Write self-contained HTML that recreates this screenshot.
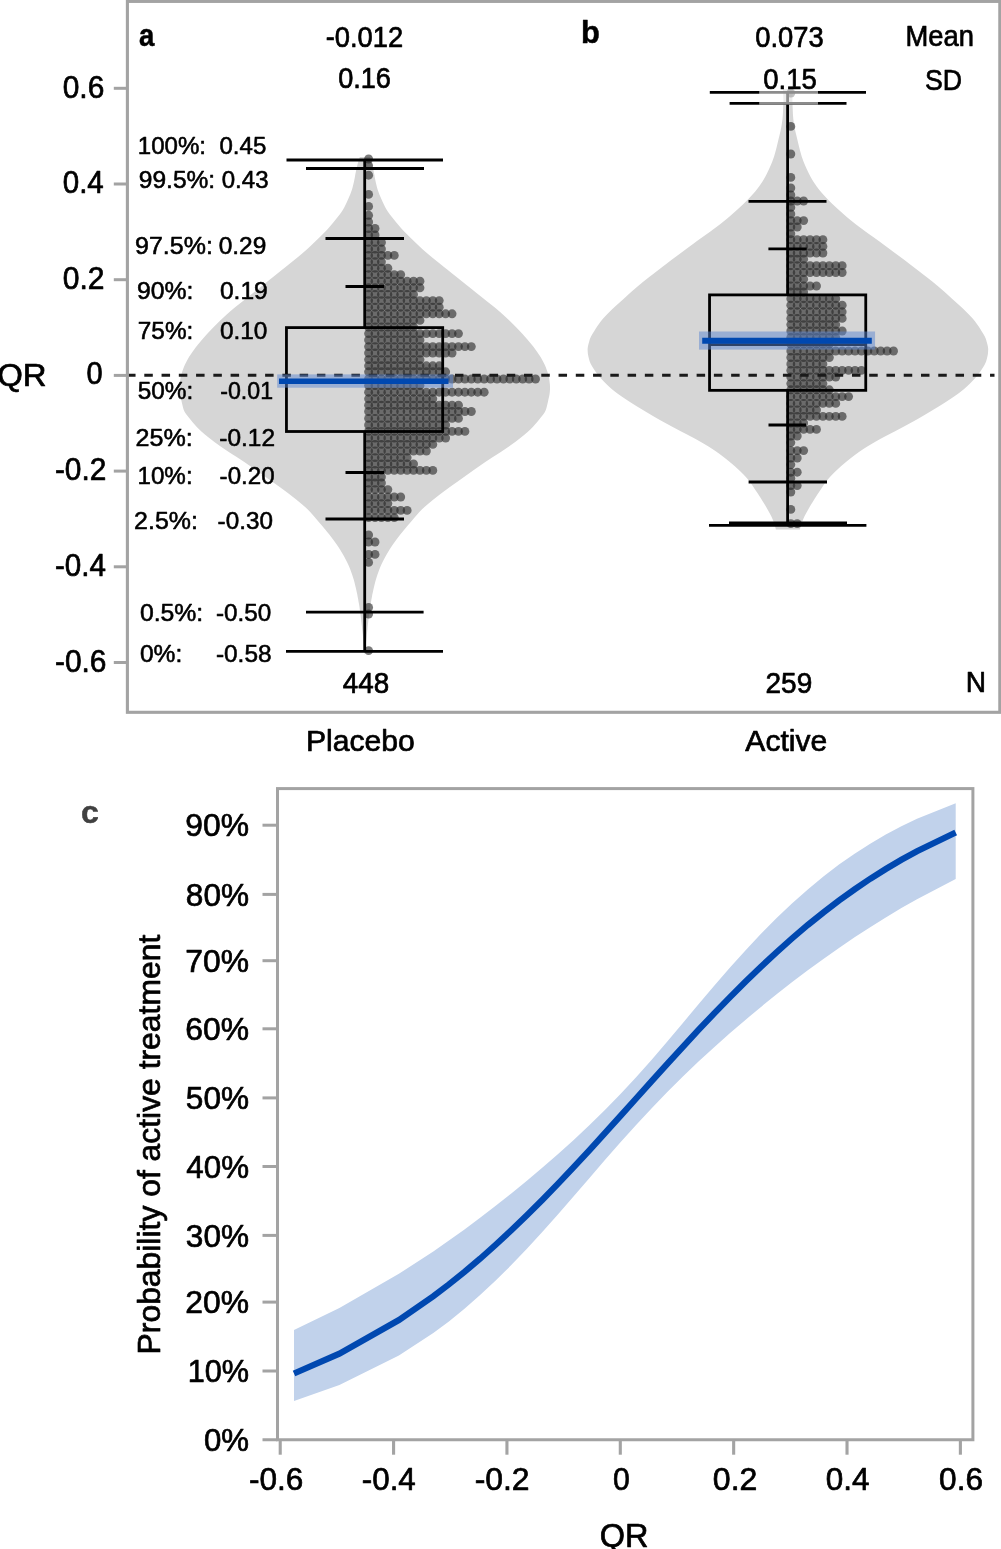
<!DOCTYPE html>
<html><head><meta charset="utf-8"><title>Figure</title>
<style>html,body{margin:0;padding:0;background:#fff}svg{display:block}</style></head>
<body>
<svg width="1001" height="1549" viewBox="0 0 1001 1549" font-family='"Liberation Sans", Arial, Helvetica, sans-serif'>
<rect x="0" y="0" width="1001" height="1549" fill="#fff"/>
<path d="M369.8,157.0 L370.6,159.5 L371.4,162.0 L372.1,164.5 L372.7,167.0 L373.3,169.5 L373.8,172.0 L374.3,174.5 L374.7,177.0 L375.2,179.5 L375.7,182.0 L376.3,184.5 L376.9,187.0 L377.6,189.5 L378.5,192.0 L379.4,194.5 L380.5,197.0 L381.6,199.5 L382.7,202.0 L383.9,204.5 L385.1,207.0 L386.5,209.5 L388.1,212.0 L389.9,214.5 L391.9,217.0 L393.9,219.5 L395.9,222.0 L398.0,224.5 L400.1,227.0 L402.3,229.5 L404.7,232.0 L407.2,234.5 L409.7,237.0 L412.3,239.5 L414.9,242.0 L417.5,244.5 L420.1,247.0 L422.8,249.5 L425.7,252.0 L428.6,254.5 L431.6,257.0 L434.7,259.5 L437.8,262.0 L440.9,264.5 L444.0,267.0 L447.2,269.5 L450.3,272.0 L453.4,274.5 L456.6,277.0 L459.7,279.5 L462.8,282.0 L465.9,284.5 L469.1,287.0 L472.2,289.5 L475.3,292.0 L478.4,294.5 L481.6,297.0 L484.7,299.5 L487.8,302.0 L491.0,304.5 L494.2,307.0 L497.2,309.5 L500.1,312.0 L502.9,314.5 L505.6,317.0 L508.3,319.5 L510.9,322.0 L513.4,324.5 L515.9,327.0 L518.3,329.5 L520.7,332.0 L523.0,334.5 L525.2,337.0 L527.4,339.5 L529.5,342.0 L531.6,344.5 L533.6,347.0 L535.4,349.5 L537.2,352.0 L538.9,354.5 L540.6,357.0 L542.0,359.5 L543.3,362.0 L544.6,364.5 L545.7,367.0 L546.6,369.5 L547.5,372.0 L548.2,374.5 L548.9,377.0 L549.3,379.5 L549.6,382.0 L549.9,384.5 L550.0,387.0 L550.0,389.5 L549.8,392.0 L549.5,394.5 L549.0,397.0 L548.4,399.5 L547.9,402.0 L547.3,404.5 L546.7,407.0 L546.0,409.5 L544.9,412.0 L543.2,414.5 L541.2,417.0 L539.2,419.5 L537.2,422.0 L535.0,424.5 L532.8,427.0 L530.3,429.5 L527.6,432.0 L524.7,434.5 L521.6,437.0 L518.4,439.5 L515.2,442.0 L511.7,444.5 L508.2,447.0 L504.5,449.5 L500.8,452.0 L496.9,454.5 L492.9,457.0 L489.1,459.5 L485.3,462.0 L481.7,464.5 L478.1,467.0 L474.5,469.5 L471.0,472.0 L467.5,474.5 L464.0,477.0 L460.5,479.5 L457.0,482.0 L453.4,484.5 L449.9,487.0 L446.5,489.5 L443.1,492.0 L439.8,494.5 L436.6,497.0 L433.4,499.5 L430.4,502.0 L427.4,504.5 L424.5,507.0 L421.8,509.5 L419.4,512.0 L417.2,514.5 L415.0,517.0 L412.9,519.5 L410.8,522.0 L408.6,524.5 L406.5,527.0 L404.4,529.5 L402.4,532.0 L400.3,534.5 L398.4,537.0 L396.5,539.5 L394.7,542.0 L392.9,544.5 L391.2,547.0 L389.6,549.5 L388.1,552.0 L386.6,554.5 L385.2,557.0 L383.9,559.5 L382.6,562.0 L381.4,564.5 L380.3,567.0 L379.3,569.5 L378.4,572.0 L377.5,574.5 L376.7,577.0 L375.9,579.5 L375.2,582.0 L374.6,584.5 L374.0,587.0 L373.4,589.5 L372.9,592.0 L372.3,594.5 L371.9,597.0 L371.4,599.5 L371.0,602.0 L370.5,604.5 L370.1,607.0 L369.8,609.5 L369.4,612.0 L369.1,614.5 L368.8,617.0 L368.5,619.5 L368.2,622.0 L367.9,624.5 L367.6,627.0 L367.4,629.5 L367.1,632.0 L366.8,634.5 L366.6,637.0 L366.3,639.5 L366.1,642.0 L365.9,644.5 L365.7,647.0 L365.5,649.5 L365.2,652.0 L364.9,654.5 L364.8,655.0 L364.8,655.0 L364.7,654.5 L364.4,652.0 L364.1,649.5 L363.9,647.0 L363.7,644.5 L363.5,642.0 L363.3,639.5 L363.0,637.0 L362.8,634.5 L362.5,632.0 L362.2,629.5 L362.0,627.0 L361.7,624.5 L361.4,622.0 L361.1,619.5 L360.8,617.0 L360.5,614.5 L360.2,612.0 L359.8,609.5 L359.5,607.0 L359.1,604.5 L358.6,602.0 L358.2,599.5 L357.7,597.0 L357.3,594.5 L356.7,592.0 L356.2,589.5 L355.6,587.0 L355.0,584.5 L354.4,582.0 L353.7,579.5 L352.9,577.0 L352.1,574.5 L351.2,572.0 L350.3,569.5 L349.3,567.0 L348.2,564.5 L347.0,562.0 L345.7,559.5 L344.4,557.0 L343.0,554.5 L341.5,552.0 L340.0,549.5 L338.4,547.0 L336.7,544.5 L334.9,542.0 L333.1,539.5 L331.2,537.0 L329.3,534.5 L327.2,532.0 L325.2,529.5 L323.1,527.0 L321.0,524.5 L318.8,522.0 L316.7,519.5 L314.6,517.0 L312.4,514.5 L310.2,512.0 L307.8,509.5 L305.1,507.0 L302.2,504.5 L299.2,502.0 L296.2,499.5 L293.0,497.0 L289.8,494.5 L286.5,492.0 L283.1,489.5 L279.7,487.0 L276.2,484.5 L272.6,482.0 L269.1,479.5 L265.6,477.0 L262.1,474.5 L258.6,472.0 L255.1,469.5 L251.5,467.0 L247.9,464.5 L244.3,462.0 L240.5,459.5 L236.7,457.0 L232.7,454.5 L228.8,452.0 L225.1,449.5 L221.4,447.0 L217.9,444.5 L214.4,442.0 L211.2,439.5 L208.0,437.0 L204.9,434.5 L202.0,432.0 L199.3,429.5 L196.8,427.0 L194.6,424.5 L192.4,422.0 L190.4,419.5 L188.4,417.0 L186.4,414.5 L184.7,412.0 L183.6,409.5 L182.9,407.0 L182.3,404.5 L181.7,402.0 L181.2,399.5 L180.6,397.0 L180.1,394.5 L179.8,392.0 L179.6,389.5 L179.6,387.0 L179.7,384.5 L180.0,382.0 L180.3,379.5 L180.7,377.0 L181.4,374.5 L182.1,372.0 L183.0,369.5 L183.9,367.0 L185.0,364.5 L186.3,362.0 L187.6,359.5 L189.0,357.0 L190.7,354.5 L192.4,352.0 L194.2,349.5 L196.0,347.0 L198.0,344.5 L200.1,342.0 L202.2,339.5 L204.4,337.0 L206.6,334.5 L208.9,332.0 L211.3,329.5 L213.7,327.0 L216.2,324.5 L218.7,322.0 L221.3,319.5 L224.0,317.0 L226.7,314.5 L229.5,312.0 L232.4,309.5 L235.4,307.0 L238.6,304.5 L241.8,302.0 L244.9,299.5 L248.1,297.0 L251.2,294.5 L254.3,292.0 L257.4,289.5 L260.6,287.0 L263.7,284.5 L266.8,282.0 L269.9,279.5 L273.1,277.0 L276.2,274.5 L279.3,272.0 L282.4,269.5 L285.6,267.0 L288.7,264.5 L291.8,262.0 L294.9,259.5 L298.0,257.0 L301.0,254.5 L303.9,252.0 L306.8,249.5 L309.5,247.0 L312.1,244.5 L314.7,242.0 L317.3,239.5 L319.9,237.0 L322.4,234.5 L324.9,232.0 L327.3,229.5 L329.5,227.0 L331.6,224.5 L333.7,222.0 L335.7,219.5 L337.7,217.0 L339.7,214.5 L341.5,212.0 L343.1,209.5 L344.5,207.0 L345.7,204.5 L346.9,202.0 L348.0,199.5 L349.1,197.0 L350.2,194.5 L351.1,192.0 L352.0,189.5 L352.7,187.0 L353.3,184.5 L353.9,182.0 L354.4,179.5 L354.9,177.0 L355.3,174.5 L355.8,172.0 L356.3,169.5 L356.9,167.0 L357.5,164.5 L358.2,162.0 L359.0,159.5 L359.8,157.0Z" fill="#d6d6d6"/>
<path d="M792.9,89.0 L792.7,91.5 L792.6,94.0 L792.5,96.5 L792.4,99.0 L792.4,101.5 L792.5,104.0 L792.6,106.5 L792.7,109.0 L792.8,111.5 L792.9,114.0 L793.1,116.5 L793.3,119.0 L793.6,121.5 L794.0,124.0 L794.4,126.5 L794.9,129.0 L795.4,131.5 L796.0,134.0 L796.6,136.5 L797.2,139.0 L797.8,141.5 L798.4,144.0 L799.0,146.5 L799.6,149.0 L800.3,151.5 L801.0,154.0 L801.7,156.5 L802.6,159.0 L803.5,161.5 L804.5,164.0 L805.6,166.5 L806.7,169.0 L807.9,171.5 L809.1,174.0 L810.4,176.5 L811.8,179.0 L813.3,181.5 L815.0,184.0 L816.7,186.5 L818.6,189.0 L820.6,191.5 L822.8,194.0 L825.1,196.5 L827.4,199.0 L829.9,201.5 L832.4,204.0 L835.1,206.5 L837.8,209.0 L840.6,211.5 L843.4,214.0 L846.2,216.5 L849.2,219.0 L852.3,221.5 L855.4,224.0 L858.7,226.5 L862.1,229.0 L865.4,231.5 L868.9,234.0 L872.5,236.5 L876.0,239.0 L879.5,241.5 L882.8,244.0 L886.2,246.5 L889.6,249.0 L892.9,251.5 L896.3,254.0 L899.7,256.5 L903.1,259.0 L906.4,261.5 L909.6,264.0 L912.9,266.5 L916.1,269.0 L919.4,271.5 L922.6,274.0 L925.9,276.5 L929.1,279.0 L932.3,281.5 L935.3,284.0 L938.3,286.5 L941.2,289.0 L944.1,291.5 L946.9,294.0 L949.6,296.5 L952.3,299.0 L955.1,301.5 L957.9,304.0 L960.7,306.5 L963.4,309.0 L965.9,311.5 L968.4,314.0 L970.8,316.5 L973.1,319.0 L975.1,321.5 L976.9,324.0 L978.7,326.5 L980.3,329.0 L981.8,331.5 L983.4,334.0 L984.8,336.5 L985.9,339.0 L986.6,341.5 L987.3,344.0 L987.9,346.5 L988.2,349.0 L988.1,351.5 L987.9,354.0 L987.4,356.5 L986.8,359.0 L986.1,361.5 L985.0,364.0 L983.6,366.5 L982.0,369.0 L980.4,371.5 L978.5,374.0 L976.5,376.5 L974.3,379.0 L972.0,381.5 L969.5,384.0 L966.9,386.5 L964.1,389.0 L961.0,391.5 L957.7,394.0 L954.1,396.5 L950.4,399.0 L946.6,401.5 L942.7,404.0 L938.7,406.5 L934.5,409.0 L930.4,411.5 L926.2,414.0 L922.0,416.5 L917.7,419.0 L913.2,421.5 L908.6,424.0 L904.0,426.5 L899.3,429.0 L894.6,431.5 L889.7,434.0 L884.9,436.5 L880.2,439.0 L875.8,441.5 L871.5,444.0 L867.3,446.5 L863.4,449.0 L859.7,451.5 L856.2,454.0 L852.9,456.5 L849.7,459.0 L846.6,461.5 L843.6,464.0 L840.7,466.5 L838.0,469.0 L835.3,471.5 L832.8,474.0 L830.4,476.5 L828.2,479.0 L826.2,481.5 L824.4,484.0 L822.7,486.5 L821.1,489.0 L819.4,491.5 L817.7,494.0 L816.1,496.5 L814.5,499.0 L813.0,501.5 L811.4,504.0 L809.9,506.5 L808.5,509.0 L807.1,511.5 L805.7,514.0 L804.4,516.5 L803.3,519.0 L802.3,521.5 L801.5,524.0 L800.7,526.5 L800.0,529.0 L799.9,529.6 L775.9,529.6 L775.8,529.0 L775.1,526.5 L774.3,524.0 L773.5,521.5 L772.5,519.0 L771.4,516.5 L770.1,514.0 L768.7,511.5 L767.3,509.0 L765.9,506.5 L764.4,504.0 L762.8,501.5 L761.3,499.0 L759.7,496.5 L758.1,494.0 L756.4,491.5 L754.7,489.0 L753.1,486.5 L751.4,484.0 L749.6,481.5 L747.6,479.0 L745.4,476.5 L743.0,474.0 L740.5,471.5 L737.8,469.0 L735.1,466.5 L732.2,464.0 L729.2,461.5 L726.1,459.0 L722.9,456.5 L719.6,454.0 L716.1,451.5 L712.4,449.0 L708.5,446.5 L704.3,444.0 L700.0,441.5 L695.6,439.0 L690.9,436.5 L686.1,434.0 L681.2,431.5 L676.5,429.0 L671.8,426.5 L667.2,424.0 L662.6,421.5 L658.1,419.0 L653.8,416.5 L649.6,414.0 L645.4,411.5 L641.3,409.0 L637.1,406.5 L633.1,404.0 L629.2,401.5 L625.4,399.0 L621.7,396.5 L618.1,394.0 L614.8,391.5 L611.7,389.0 L608.9,386.5 L606.3,384.0 L603.8,381.5 L601.5,379.0 L599.3,376.5 L597.3,374.0 L595.4,371.5 L593.8,369.0 L592.2,366.5 L590.8,364.0 L589.7,361.5 L589.0,359.0 L588.4,356.5 L587.9,354.0 L587.7,351.5 L587.6,349.0 L587.9,346.5 L588.5,344.0 L589.2,341.5 L589.9,339.0 L591.0,336.5 L592.4,334.0 L594.0,331.5 L595.5,329.0 L597.1,326.5 L598.9,324.0 L600.7,321.5 L602.7,319.0 L605.0,316.5 L607.4,314.0 L609.9,311.5 L612.4,309.0 L615.1,306.5 L617.9,304.0 L620.7,301.5 L623.5,299.0 L626.2,296.5 L628.9,294.0 L631.7,291.5 L634.6,289.0 L637.5,286.5 L640.5,284.0 L643.5,281.5 L646.7,279.0 L649.9,276.5 L653.2,274.0 L656.4,271.5 L659.7,269.0 L662.9,266.5 L666.2,264.0 L669.4,261.5 L672.7,259.0 L676.1,256.5 L679.5,254.0 L682.9,251.5 L686.2,249.0 L689.6,246.5 L693.0,244.0 L696.3,241.5 L699.8,239.0 L703.3,236.5 L706.9,234.0 L710.4,231.5 L713.7,229.0 L717.1,226.5 L720.4,224.0 L723.5,221.5 L726.6,219.0 L729.6,216.5 L732.4,214.0 L735.2,211.5 L738.0,209.0 L740.7,206.5 L743.4,204.0 L745.9,201.5 L748.4,199.0 L750.7,196.5 L753.0,194.0 L755.2,191.5 L757.2,189.0 L759.1,186.5 L760.8,184.0 L762.5,181.5 L764.0,179.0 L765.4,176.5 L766.7,174.0 L767.9,171.5 L769.1,169.0 L770.2,166.5 L771.3,164.0 L772.3,161.5 L773.2,159.0 L774.1,156.5 L774.8,154.0 L775.5,151.5 L776.2,149.0 L776.8,146.5 L777.4,144.0 L778.0,141.5 L778.6,139.0 L779.2,136.5 L779.8,134.0 L780.4,131.5 L780.9,129.0 L781.4,126.5 L781.8,124.0 L782.2,121.5 L782.5,119.0 L782.7,116.5 L782.9,114.0 L783.0,111.5 L783.1,109.0 L783.2,106.5 L783.3,104.0 L783.4,101.5 L783.4,99.0 L783.3,96.5 L783.2,94.0 L783.1,91.5 L782.9,89.0Z" fill="#d6d6d6"/>
<g fill="#232323" fill-opacity="0.6">
<circle cx="368.60" cy="159" r="4.45"/>
<circle cx="368.60" cy="165.6" r="4.45"/>
<circle cx="368.60" cy="175.2" r="4.45"/>
<circle cx="368.60" cy="194.4" r="4.45"/>
<circle cx="368.60" cy="206.4" r="4.45"/>
<circle cx="368.60" cy="215.3" r="4.45"/>
<circle cx="368.60" cy="222" r="4.45"/>
<circle cx="368.60" cy="228.5" r="4.45"/>
<circle cx="375.02" cy="228.5" r="4.45"/>
<circle cx="368.60" cy="235" r="4.45"/>
<circle cx="375.02" cy="235" r="4.45"/>
<circle cx="368.60" cy="242.4" r="4.45"/>
<circle cx="375.02" cy="242.4" r="4.45"/>
<circle cx="381.44" cy="242.4" r="4.45"/>
<circle cx="368.60" cy="249" r="4.45"/>
<circle cx="375.02" cy="249" r="4.45"/>
<circle cx="381.44" cy="249" r="4.45"/>
<circle cx="368.60" cy="255.4" r="4.45"/>
<circle cx="375.02" cy="255.4" r="4.45"/>
<circle cx="381.44" cy="255.4" r="4.45"/>
<circle cx="387.86" cy="255.4" r="4.45"/>
<circle cx="394.28" cy="255.4" r="4.45"/>
<circle cx="368.60" cy="261.8" r="4.45"/>
<circle cx="375.02" cy="261.8" r="4.45"/>
<circle cx="381.44" cy="261.8" r="4.45"/>
<circle cx="368.60" cy="268.2" r="4.45"/>
<circle cx="375.02" cy="268.2" r="4.45"/>
<circle cx="381.44" cy="268.2" r="4.45"/>
<circle cx="387.86" cy="268.2" r="4.45"/>
<circle cx="368.60" cy="274.6" r="4.45"/>
<circle cx="375.02" cy="274.6" r="4.45"/>
<circle cx="381.44" cy="274.6" r="4.45"/>
<circle cx="387.86" cy="274.6" r="4.45"/>
<circle cx="394.28" cy="274.6" r="4.45"/>
<circle cx="400.70" cy="274.6" r="4.45"/>
<circle cx="368.60" cy="281.2" r="4.45"/>
<circle cx="375.02" cy="281.2" r="4.45"/>
<circle cx="381.44" cy="281.2" r="4.45"/>
<circle cx="387.86" cy="281.2" r="4.45"/>
<circle cx="394.28" cy="281.2" r="4.45"/>
<circle cx="400.70" cy="281.2" r="4.45"/>
<circle cx="407.12" cy="281.2" r="4.45"/>
<circle cx="413.54" cy="281.2" r="4.45"/>
<circle cx="419.96" cy="281.2" r="4.45"/>
<circle cx="368.60" cy="287.8" r="4.45"/>
<circle cx="375.02" cy="287.8" r="4.45"/>
<circle cx="381.44" cy="287.8" r="4.45"/>
<circle cx="387.86" cy="287.8" r="4.45"/>
<circle cx="394.28" cy="287.8" r="4.45"/>
<circle cx="400.70" cy="287.8" r="4.45"/>
<circle cx="407.12" cy="287.8" r="4.45"/>
<circle cx="413.54" cy="287.8" r="4.45"/>
<circle cx="419.96" cy="287.8" r="4.45"/>
<circle cx="368.60" cy="294.4" r="4.45"/>
<circle cx="375.02" cy="294.4" r="4.45"/>
<circle cx="381.44" cy="294.4" r="4.45"/>
<circle cx="387.86" cy="294.4" r="4.45"/>
<circle cx="394.28" cy="294.4" r="4.45"/>
<circle cx="400.70" cy="294.4" r="4.45"/>
<circle cx="407.12" cy="294.4" r="4.45"/>
<circle cx="413.54" cy="294.4" r="4.45"/>
<circle cx="368.60" cy="300.6" r="4.45"/>
<circle cx="375.02" cy="300.6" r="4.45"/>
<circle cx="381.44" cy="300.6" r="4.45"/>
<circle cx="387.86" cy="300.6" r="4.45"/>
<circle cx="394.28" cy="300.6" r="4.45"/>
<circle cx="400.70" cy="300.6" r="4.45"/>
<circle cx="407.12" cy="300.6" r="4.45"/>
<circle cx="413.54" cy="300.6" r="4.45"/>
<circle cx="419.96" cy="300.6" r="4.45"/>
<circle cx="426.38" cy="300.6" r="4.45"/>
<circle cx="432.80" cy="300.6" r="4.45"/>
<circle cx="439.22" cy="300.6" r="4.45"/>
<circle cx="368.60" cy="307.2" r="4.45"/>
<circle cx="375.02" cy="307.2" r="4.45"/>
<circle cx="381.44" cy="307.2" r="4.45"/>
<circle cx="387.86" cy="307.2" r="4.45"/>
<circle cx="394.28" cy="307.2" r="4.45"/>
<circle cx="400.70" cy="307.2" r="4.45"/>
<circle cx="407.12" cy="307.2" r="4.45"/>
<circle cx="413.54" cy="307.2" r="4.45"/>
<circle cx="419.96" cy="307.2" r="4.45"/>
<circle cx="426.38" cy="307.2" r="4.45"/>
<circle cx="432.80" cy="307.2" r="4.45"/>
<circle cx="439.22" cy="307.2" r="4.45"/>
<circle cx="368.60" cy="313.8" r="4.45"/>
<circle cx="375.02" cy="313.8" r="4.45"/>
<circle cx="381.44" cy="313.8" r="4.45"/>
<circle cx="387.86" cy="313.8" r="4.45"/>
<circle cx="394.28" cy="313.8" r="4.45"/>
<circle cx="400.70" cy="313.8" r="4.45"/>
<circle cx="407.12" cy="313.8" r="4.45"/>
<circle cx="413.54" cy="313.8" r="4.45"/>
<circle cx="419.96" cy="313.8" r="4.45"/>
<circle cx="426.38" cy="313.8" r="4.45"/>
<circle cx="432.80" cy="313.8" r="4.45"/>
<circle cx="439.22" cy="313.8" r="4.45"/>
<circle cx="445.64" cy="313.8" r="4.45"/>
<circle cx="452.06" cy="313.8" r="4.45"/>
<circle cx="368.60" cy="320.4" r="4.45"/>
<circle cx="375.02" cy="320.4" r="4.45"/>
<circle cx="381.44" cy="320.4" r="4.45"/>
<circle cx="387.86" cy="320.4" r="4.45"/>
<circle cx="394.28" cy="320.4" r="4.45"/>
<circle cx="400.70" cy="320.4" r="4.45"/>
<circle cx="407.12" cy="320.4" r="4.45"/>
<circle cx="413.54" cy="320.4" r="4.45"/>
<circle cx="419.96" cy="320.4" r="4.45"/>
<circle cx="368.60" cy="327" r="4.45"/>
<circle cx="375.02" cy="327" r="4.45"/>
<circle cx="381.44" cy="327" r="4.45"/>
<circle cx="387.86" cy="327" r="4.45"/>
<circle cx="394.28" cy="327" r="4.45"/>
<circle cx="400.70" cy="327" r="4.45"/>
<circle cx="407.12" cy="327" r="4.45"/>
<circle cx="413.54" cy="327" r="4.45"/>
<circle cx="368.60" cy="333.6" r="4.45"/>
<circle cx="375.02" cy="333.6" r="4.45"/>
<circle cx="381.44" cy="333.6" r="4.45"/>
<circle cx="387.86" cy="333.6" r="4.45"/>
<circle cx="394.28" cy="333.6" r="4.45"/>
<circle cx="400.70" cy="333.6" r="4.45"/>
<circle cx="407.12" cy="333.6" r="4.45"/>
<circle cx="413.54" cy="333.6" r="4.45"/>
<circle cx="419.96" cy="333.6" r="4.45"/>
<circle cx="426.38" cy="333.6" r="4.45"/>
<circle cx="432.80" cy="333.6" r="4.45"/>
<circle cx="439.22" cy="333.6" r="4.45"/>
<circle cx="445.64" cy="333.6" r="4.45"/>
<circle cx="452.06" cy="333.6" r="4.45"/>
<circle cx="458.48" cy="333.6" r="4.45"/>
<circle cx="368.60" cy="340" r="4.45"/>
<circle cx="375.02" cy="340" r="4.45"/>
<circle cx="381.44" cy="340" r="4.45"/>
<circle cx="387.86" cy="340" r="4.45"/>
<circle cx="394.28" cy="340" r="4.45"/>
<circle cx="400.70" cy="340" r="4.45"/>
<circle cx="407.12" cy="340" r="4.45"/>
<circle cx="413.54" cy="340" r="4.45"/>
<circle cx="419.96" cy="340" r="4.45"/>
<circle cx="368.60" cy="346.6" r="4.45"/>
<circle cx="375.02" cy="346.6" r="4.45"/>
<circle cx="381.44" cy="346.6" r="4.45"/>
<circle cx="387.86" cy="346.6" r="4.45"/>
<circle cx="394.28" cy="346.6" r="4.45"/>
<circle cx="400.70" cy="346.6" r="4.45"/>
<circle cx="407.12" cy="346.6" r="4.45"/>
<circle cx="413.54" cy="346.6" r="4.45"/>
<circle cx="419.96" cy="346.6" r="4.45"/>
<circle cx="426.38" cy="346.6" r="4.45"/>
<circle cx="432.80" cy="346.6" r="4.45"/>
<circle cx="439.22" cy="346.6" r="4.45"/>
<circle cx="445.64" cy="346.6" r="4.45"/>
<circle cx="452.06" cy="346.6" r="4.45"/>
<circle cx="458.48" cy="346.6" r="4.45"/>
<circle cx="464.90" cy="346.6" r="4.45"/>
<circle cx="471.32" cy="346.6" r="4.45"/>
<circle cx="368.60" cy="353" r="4.45"/>
<circle cx="375.02" cy="353" r="4.45"/>
<circle cx="381.44" cy="353" r="4.45"/>
<circle cx="387.86" cy="353" r="4.45"/>
<circle cx="394.28" cy="353" r="4.45"/>
<circle cx="400.70" cy="353" r="4.45"/>
<circle cx="407.12" cy="353" r="4.45"/>
<circle cx="413.54" cy="353" r="4.45"/>
<circle cx="419.96" cy="353" r="4.45"/>
<circle cx="426.38" cy="353" r="4.45"/>
<circle cx="432.80" cy="353" r="4.45"/>
<circle cx="439.22" cy="353" r="4.45"/>
<circle cx="445.64" cy="353" r="4.45"/>
<circle cx="452.06" cy="353" r="4.45"/>
<circle cx="368.60" cy="359.6" r="4.45"/>
<circle cx="375.02" cy="359.6" r="4.45"/>
<circle cx="381.44" cy="359.6" r="4.45"/>
<circle cx="387.86" cy="359.6" r="4.45"/>
<circle cx="394.28" cy="359.6" r="4.45"/>
<circle cx="400.70" cy="359.6" r="4.45"/>
<circle cx="407.12" cy="359.6" r="4.45"/>
<circle cx="413.54" cy="359.6" r="4.45"/>
<circle cx="419.96" cy="359.6" r="4.45"/>
<circle cx="368.60" cy="365.8" r="4.45"/>
<circle cx="375.02" cy="365.8" r="4.45"/>
<circle cx="381.44" cy="365.8" r="4.45"/>
<circle cx="387.86" cy="365.8" r="4.45"/>
<circle cx="394.28" cy="365.8" r="4.45"/>
<circle cx="400.70" cy="365.8" r="4.45"/>
<circle cx="407.12" cy="365.8" r="4.45"/>
<circle cx="413.54" cy="365.8" r="4.45"/>
<circle cx="419.96" cy="365.8" r="4.45"/>
<circle cx="426.38" cy="365.8" r="4.45"/>
<circle cx="432.80" cy="365.8" r="4.45"/>
<circle cx="439.22" cy="365.8" r="4.45"/>
<circle cx="368.60" cy="371.8" r="4.45"/>
<circle cx="375.02" cy="371.8" r="4.45"/>
<circle cx="381.44" cy="371.8" r="4.45"/>
<circle cx="387.86" cy="371.8" r="4.45"/>
<circle cx="394.28" cy="371.8" r="4.45"/>
<circle cx="400.70" cy="371.8" r="4.45"/>
<circle cx="407.12" cy="371.8" r="4.45"/>
<circle cx="413.54" cy="371.8" r="4.45"/>
<circle cx="419.96" cy="371.8" r="4.45"/>
<circle cx="426.38" cy="371.8" r="4.45"/>
<circle cx="432.80" cy="371.8" r="4.45"/>
<circle cx="439.22" cy="371.8" r="4.45"/>
<circle cx="445.64" cy="371.8" r="4.45"/>
<circle cx="368.60" cy="379" r="4.45"/>
<circle cx="375.02" cy="379" r="4.45"/>
<circle cx="381.44" cy="379" r="4.45"/>
<circle cx="387.86" cy="379" r="4.45"/>
<circle cx="394.28" cy="379" r="4.45"/>
<circle cx="400.70" cy="379" r="4.45"/>
<circle cx="407.12" cy="379" r="4.45"/>
<circle cx="413.54" cy="379" r="4.45"/>
<circle cx="419.96" cy="379" r="4.45"/>
<circle cx="426.38" cy="379" r="4.45"/>
<circle cx="432.80" cy="379" r="4.45"/>
<circle cx="439.22" cy="379" r="4.45"/>
<circle cx="445.64" cy="379" r="4.45"/>
<circle cx="452.06" cy="379" r="4.45"/>
<circle cx="458.48" cy="379" r="4.45"/>
<circle cx="464.90" cy="379" r="4.45"/>
<circle cx="471.32" cy="379" r="4.45"/>
<circle cx="477.74" cy="379" r="4.45"/>
<circle cx="484.16" cy="379" r="4.45"/>
<circle cx="490.58" cy="379" r="4.45"/>
<circle cx="497.00" cy="379" r="4.45"/>
<circle cx="503.42" cy="379" r="4.45"/>
<circle cx="509.84" cy="379" r="4.45"/>
<circle cx="516.26" cy="379" r="4.45"/>
<circle cx="522.68" cy="379" r="4.45"/>
<circle cx="529.10" cy="379" r="4.45"/>
<circle cx="535.52" cy="379" r="4.45"/>
<circle cx="368.60" cy="385.6" r="4.45"/>
<circle cx="375.02" cy="385.6" r="4.45"/>
<circle cx="381.44" cy="385.6" r="4.45"/>
<circle cx="387.86" cy="385.6" r="4.45"/>
<circle cx="394.28" cy="385.6" r="4.45"/>
<circle cx="400.70" cy="385.6" r="4.45"/>
<circle cx="407.12" cy="385.6" r="4.45"/>
<circle cx="413.54" cy="385.6" r="4.45"/>
<circle cx="419.96" cy="385.6" r="4.45"/>
<circle cx="368.60" cy="392.2" r="4.45"/>
<circle cx="375.02" cy="392.2" r="4.45"/>
<circle cx="381.44" cy="392.2" r="4.45"/>
<circle cx="387.86" cy="392.2" r="4.45"/>
<circle cx="394.28" cy="392.2" r="4.45"/>
<circle cx="400.70" cy="392.2" r="4.45"/>
<circle cx="407.12" cy="392.2" r="4.45"/>
<circle cx="413.54" cy="392.2" r="4.45"/>
<circle cx="419.96" cy="392.2" r="4.45"/>
<circle cx="426.38" cy="392.2" r="4.45"/>
<circle cx="432.80" cy="392.2" r="4.45"/>
<circle cx="439.22" cy="392.2" r="4.45"/>
<circle cx="445.64" cy="392.2" r="4.45"/>
<circle cx="452.06" cy="392.2" r="4.45"/>
<circle cx="458.48" cy="392.2" r="4.45"/>
<circle cx="464.90" cy="392.2" r="4.45"/>
<circle cx="471.32" cy="392.2" r="4.45"/>
<circle cx="477.74" cy="392.2" r="4.45"/>
<circle cx="484.16" cy="392.2" r="4.45"/>
<circle cx="368.60" cy="398.8" r="4.45"/>
<circle cx="375.02" cy="398.8" r="4.45"/>
<circle cx="381.44" cy="398.8" r="4.45"/>
<circle cx="387.86" cy="398.8" r="4.45"/>
<circle cx="394.28" cy="398.8" r="4.45"/>
<circle cx="400.70" cy="398.8" r="4.45"/>
<circle cx="407.12" cy="398.8" r="4.45"/>
<circle cx="413.54" cy="398.8" r="4.45"/>
<circle cx="419.96" cy="398.8" r="4.45"/>
<circle cx="426.38" cy="398.8" r="4.45"/>
<circle cx="432.80" cy="398.8" r="4.45"/>
<circle cx="368.60" cy="405.2" r="4.45"/>
<circle cx="375.02" cy="405.2" r="4.45"/>
<circle cx="381.44" cy="405.2" r="4.45"/>
<circle cx="387.86" cy="405.2" r="4.45"/>
<circle cx="394.28" cy="405.2" r="4.45"/>
<circle cx="400.70" cy="405.2" r="4.45"/>
<circle cx="407.12" cy="405.2" r="4.45"/>
<circle cx="413.54" cy="405.2" r="4.45"/>
<circle cx="419.96" cy="405.2" r="4.45"/>
<circle cx="426.38" cy="405.2" r="4.45"/>
<circle cx="432.80" cy="405.2" r="4.45"/>
<circle cx="439.22" cy="405.2" r="4.45"/>
<circle cx="445.64" cy="405.2" r="4.45"/>
<circle cx="452.06" cy="405.2" r="4.45"/>
<circle cx="458.48" cy="405.2" r="4.45"/>
<circle cx="368.60" cy="411.5" r="4.45"/>
<circle cx="375.02" cy="411.5" r="4.45"/>
<circle cx="381.44" cy="411.5" r="4.45"/>
<circle cx="387.86" cy="411.5" r="4.45"/>
<circle cx="394.28" cy="411.5" r="4.45"/>
<circle cx="400.70" cy="411.5" r="4.45"/>
<circle cx="407.12" cy="411.5" r="4.45"/>
<circle cx="413.54" cy="411.5" r="4.45"/>
<circle cx="419.96" cy="411.5" r="4.45"/>
<circle cx="426.38" cy="411.5" r="4.45"/>
<circle cx="432.80" cy="411.5" r="4.45"/>
<circle cx="439.22" cy="411.5" r="4.45"/>
<circle cx="445.64" cy="411.5" r="4.45"/>
<circle cx="452.06" cy="411.5" r="4.45"/>
<circle cx="458.48" cy="411.5" r="4.45"/>
<circle cx="464.90" cy="411.5" r="4.45"/>
<circle cx="471.32" cy="411.5" r="4.45"/>
<circle cx="368.60" cy="418.4" r="4.45"/>
<circle cx="375.02" cy="418.4" r="4.45"/>
<circle cx="381.44" cy="418.4" r="4.45"/>
<circle cx="387.86" cy="418.4" r="4.45"/>
<circle cx="394.28" cy="418.4" r="4.45"/>
<circle cx="400.70" cy="418.4" r="4.45"/>
<circle cx="407.12" cy="418.4" r="4.45"/>
<circle cx="413.54" cy="418.4" r="4.45"/>
<circle cx="419.96" cy="418.4" r="4.45"/>
<circle cx="426.38" cy="418.4" r="4.45"/>
<circle cx="432.80" cy="418.4" r="4.45"/>
<circle cx="439.22" cy="418.4" r="4.45"/>
<circle cx="445.64" cy="418.4" r="4.45"/>
<circle cx="452.06" cy="418.4" r="4.45"/>
<circle cx="458.48" cy="418.4" r="4.45"/>
<circle cx="368.60" cy="425" r="4.45"/>
<circle cx="375.02" cy="425" r="4.45"/>
<circle cx="381.44" cy="425" r="4.45"/>
<circle cx="387.86" cy="425" r="4.45"/>
<circle cx="394.28" cy="425" r="4.45"/>
<circle cx="400.70" cy="425" r="4.45"/>
<circle cx="407.12" cy="425" r="4.45"/>
<circle cx="413.54" cy="425" r="4.45"/>
<circle cx="419.96" cy="425" r="4.45"/>
<circle cx="426.38" cy="425" r="4.45"/>
<circle cx="432.80" cy="425" r="4.45"/>
<circle cx="439.22" cy="425" r="4.45"/>
<circle cx="445.64" cy="425" r="4.45"/>
<circle cx="368.60" cy="431.4" r="4.45"/>
<circle cx="375.02" cy="431.4" r="4.45"/>
<circle cx="381.44" cy="431.4" r="4.45"/>
<circle cx="387.86" cy="431.4" r="4.45"/>
<circle cx="394.28" cy="431.4" r="4.45"/>
<circle cx="400.70" cy="431.4" r="4.45"/>
<circle cx="407.12" cy="431.4" r="4.45"/>
<circle cx="413.54" cy="431.4" r="4.45"/>
<circle cx="419.96" cy="431.4" r="4.45"/>
<circle cx="426.38" cy="431.4" r="4.45"/>
<circle cx="432.80" cy="431.4" r="4.45"/>
<circle cx="439.22" cy="431.4" r="4.45"/>
<circle cx="445.64" cy="431.4" r="4.45"/>
<circle cx="452.06" cy="431.4" r="4.45"/>
<circle cx="458.48" cy="431.4" r="4.45"/>
<circle cx="464.90" cy="431.4" r="4.45"/>
<circle cx="368.60" cy="438" r="4.45"/>
<circle cx="375.02" cy="438" r="4.45"/>
<circle cx="381.44" cy="438" r="4.45"/>
<circle cx="387.86" cy="438" r="4.45"/>
<circle cx="394.28" cy="438" r="4.45"/>
<circle cx="400.70" cy="438" r="4.45"/>
<circle cx="407.12" cy="438" r="4.45"/>
<circle cx="413.54" cy="438" r="4.45"/>
<circle cx="419.96" cy="438" r="4.45"/>
<circle cx="426.38" cy="438" r="4.45"/>
<circle cx="432.80" cy="438" r="4.45"/>
<circle cx="439.22" cy="438" r="4.45"/>
<circle cx="445.64" cy="438" r="4.45"/>
<circle cx="368.60" cy="444.4" r="4.45"/>
<circle cx="375.02" cy="444.4" r="4.45"/>
<circle cx="381.44" cy="444.4" r="4.45"/>
<circle cx="387.86" cy="444.4" r="4.45"/>
<circle cx="394.28" cy="444.4" r="4.45"/>
<circle cx="400.70" cy="444.4" r="4.45"/>
<circle cx="407.12" cy="444.4" r="4.45"/>
<circle cx="413.54" cy="444.4" r="4.45"/>
<circle cx="419.96" cy="444.4" r="4.45"/>
<circle cx="426.38" cy="444.4" r="4.45"/>
<circle cx="432.80" cy="444.4" r="4.45"/>
<circle cx="368.60" cy="451" r="4.45"/>
<circle cx="375.02" cy="451" r="4.45"/>
<circle cx="381.44" cy="451" r="4.45"/>
<circle cx="387.86" cy="451" r="4.45"/>
<circle cx="394.28" cy="451" r="4.45"/>
<circle cx="400.70" cy="451" r="4.45"/>
<circle cx="407.12" cy="451" r="4.45"/>
<circle cx="413.54" cy="451" r="4.45"/>
<circle cx="419.96" cy="451" r="4.45"/>
<circle cx="426.38" cy="451" r="4.45"/>
<circle cx="368.60" cy="457.6" r="4.45"/>
<circle cx="375.02" cy="457.6" r="4.45"/>
<circle cx="381.44" cy="457.6" r="4.45"/>
<circle cx="387.86" cy="457.6" r="4.45"/>
<circle cx="394.28" cy="457.6" r="4.45"/>
<circle cx="400.70" cy="457.6" r="4.45"/>
<circle cx="407.12" cy="457.6" r="4.45"/>
<circle cx="368.60" cy="464" r="4.45"/>
<circle cx="375.02" cy="464" r="4.45"/>
<circle cx="381.44" cy="464" r="4.45"/>
<circle cx="387.86" cy="464" r="4.45"/>
<circle cx="394.28" cy="464" r="4.45"/>
<circle cx="400.70" cy="464" r="4.45"/>
<circle cx="407.12" cy="464" r="4.45"/>
<circle cx="413.54" cy="464" r="4.45"/>
<circle cx="368.60" cy="470.4" r="4.45"/>
<circle cx="375.02" cy="470.4" r="4.45"/>
<circle cx="381.44" cy="470.4" r="4.45"/>
<circle cx="387.86" cy="470.4" r="4.45"/>
<circle cx="394.28" cy="470.4" r="4.45"/>
<circle cx="400.70" cy="470.4" r="4.45"/>
<circle cx="407.12" cy="470.4" r="4.45"/>
<circle cx="413.54" cy="470.4" r="4.45"/>
<circle cx="419.96" cy="470.4" r="4.45"/>
<circle cx="426.38" cy="470.4" r="4.45"/>
<circle cx="432.80" cy="470.4" r="4.45"/>
<circle cx="368.60" cy="477" r="4.45"/>
<circle cx="375.02" cy="477" r="4.45"/>
<circle cx="381.44" cy="477" r="4.45"/>
<circle cx="368.60" cy="483" r="4.45"/>
<circle cx="375.02" cy="483" r="4.45"/>
<circle cx="381.44" cy="483" r="4.45"/>
<circle cx="368.60" cy="489.6" r="4.45"/>
<circle cx="375.02" cy="489.6" r="4.45"/>
<circle cx="381.44" cy="489.6" r="4.45"/>
<circle cx="387.86" cy="489.6" r="4.45"/>
<circle cx="368.60" cy="497" r="4.45"/>
<circle cx="375.02" cy="497" r="4.45"/>
<circle cx="381.44" cy="497" r="4.45"/>
<circle cx="387.86" cy="497" r="4.45"/>
<circle cx="394.28" cy="497" r="4.45"/>
<circle cx="400.70" cy="497" r="4.45"/>
<circle cx="368.60" cy="503.6" r="4.45"/>
<circle cx="375.02" cy="503.6" r="4.45"/>
<circle cx="381.44" cy="503.6" r="4.45"/>
<circle cx="387.86" cy="503.6" r="4.45"/>
<circle cx="368.60" cy="510.4" r="4.45"/>
<circle cx="375.02" cy="510.4" r="4.45"/>
<circle cx="381.44" cy="510.4" r="4.45"/>
<circle cx="387.86" cy="510.4" r="4.45"/>
<circle cx="394.28" cy="510.4" r="4.45"/>
<circle cx="400.70" cy="510.4" r="4.45"/>
<circle cx="407.12" cy="510.4" r="4.45"/>
<circle cx="368.60" cy="517.6" r="4.45"/>
<circle cx="375.02" cy="517.6" r="4.45"/>
<circle cx="381.44" cy="517.6" r="4.45"/>
<circle cx="387.86" cy="517.6" r="4.45"/>
<circle cx="394.28" cy="517.6" r="4.45"/>
<circle cx="368.60" cy="535" r="4.45"/>
<circle cx="368.60" cy="542" r="4.45"/>
<circle cx="375.02" cy="542" r="4.45"/>
<circle cx="368.60" cy="554.4" r="4.45"/>
<circle cx="375.02" cy="554.4" r="4.45"/>
<circle cx="368.60" cy="562.4" r="4.45"/>
<circle cx="368.60" cy="607.4" r="4.45"/>
<circle cx="368.60" cy="614" r="4.45"/>
<circle cx="368.60" cy="650.6" r="4.45"/>
</g>
<g fill="#232323" fill-opacity="0.6">
<circle cx="790.80" cy="93" r="4.45"/>
<circle cx="790.80" cy="126.4" r="4.45"/>
<circle cx="790.80" cy="154" r="4.45"/>
<circle cx="790.80" cy="177.4" r="4.45"/>
<circle cx="790.80" cy="188" r="4.45"/>
<circle cx="790.80" cy="195" r="4.45"/>
<circle cx="790.80" cy="201" r="4.45"/>
<circle cx="797.22" cy="201" r="4.45"/>
<circle cx="803.64" cy="201" r="4.45"/>
<circle cx="790.80" cy="207.4" r="4.45"/>
<circle cx="790.80" cy="214" r="4.45"/>
<circle cx="790.80" cy="220.6" r="4.45"/>
<circle cx="797.22" cy="220.6" r="4.45"/>
<circle cx="803.64" cy="220.6" r="4.45"/>
<circle cx="790.80" cy="227" r="4.45"/>
<circle cx="797.22" cy="227" r="4.45"/>
<circle cx="790.80" cy="233.7" r="4.45"/>
<circle cx="790.80" cy="239.7" r="4.45"/>
<circle cx="797.22" cy="239.7" r="4.45"/>
<circle cx="803.64" cy="239.7" r="4.45"/>
<circle cx="810.06" cy="239.7" r="4.45"/>
<circle cx="816.48" cy="239.7" r="4.45"/>
<circle cx="822.90" cy="239.7" r="4.45"/>
<circle cx="790.80" cy="246.4" r="4.45"/>
<circle cx="797.22" cy="246.4" r="4.45"/>
<circle cx="803.64" cy="246.4" r="4.45"/>
<circle cx="810.06" cy="246.4" r="4.45"/>
<circle cx="816.48" cy="246.4" r="4.45"/>
<circle cx="822.90" cy="246.4" r="4.45"/>
<circle cx="790.80" cy="253" r="4.45"/>
<circle cx="797.22" cy="253" r="4.45"/>
<circle cx="803.64" cy="253" r="4.45"/>
<circle cx="810.06" cy="253" r="4.45"/>
<circle cx="816.48" cy="253" r="4.45"/>
<circle cx="822.90" cy="253" r="4.45"/>
<circle cx="790.80" cy="259.2" r="4.45"/>
<circle cx="797.22" cy="259.2" r="4.45"/>
<circle cx="803.64" cy="259.2" r="4.45"/>
<circle cx="790.80" cy="265.7" r="4.45"/>
<circle cx="797.22" cy="265.7" r="4.45"/>
<circle cx="803.64" cy="265.7" r="4.45"/>
<circle cx="810.06" cy="265.7" r="4.45"/>
<circle cx="816.48" cy="265.7" r="4.45"/>
<circle cx="822.90" cy="265.7" r="4.45"/>
<circle cx="829.32" cy="265.7" r="4.45"/>
<circle cx="835.74" cy="265.7" r="4.45"/>
<circle cx="842.16" cy="265.7" r="4.45"/>
<circle cx="790.80" cy="272.5" r="4.45"/>
<circle cx="797.22" cy="272.5" r="4.45"/>
<circle cx="803.64" cy="272.5" r="4.45"/>
<circle cx="810.06" cy="272.5" r="4.45"/>
<circle cx="816.48" cy="272.5" r="4.45"/>
<circle cx="822.90" cy="272.5" r="4.45"/>
<circle cx="829.32" cy="272.5" r="4.45"/>
<circle cx="835.74" cy="272.5" r="4.45"/>
<circle cx="842.16" cy="272.5" r="4.45"/>
<circle cx="790.80" cy="279.2" r="4.45"/>
<circle cx="797.22" cy="279.2" r="4.45"/>
<circle cx="803.64" cy="279.2" r="4.45"/>
<circle cx="790.80" cy="286" r="4.45"/>
<circle cx="797.22" cy="286" r="4.45"/>
<circle cx="803.64" cy="286" r="4.45"/>
<circle cx="810.06" cy="286" r="4.45"/>
<circle cx="816.48" cy="286" r="4.45"/>
<circle cx="790.80" cy="292" r="4.45"/>
<circle cx="797.22" cy="292" r="4.45"/>
<circle cx="803.64" cy="292" r="4.45"/>
<circle cx="790.80" cy="298.7" r="4.45"/>
<circle cx="797.22" cy="298.7" r="4.45"/>
<circle cx="803.64" cy="298.7" r="4.45"/>
<circle cx="810.06" cy="298.7" r="4.45"/>
<circle cx="816.48" cy="298.7" r="4.45"/>
<circle cx="822.90" cy="298.7" r="4.45"/>
<circle cx="829.32" cy="298.7" r="4.45"/>
<circle cx="835.74" cy="298.7" r="4.45"/>
<circle cx="790.80" cy="305.2" r="4.45"/>
<circle cx="797.22" cy="305.2" r="4.45"/>
<circle cx="803.64" cy="305.2" r="4.45"/>
<circle cx="810.06" cy="305.2" r="4.45"/>
<circle cx="816.48" cy="305.2" r="4.45"/>
<circle cx="822.90" cy="305.2" r="4.45"/>
<circle cx="829.32" cy="305.2" r="4.45"/>
<circle cx="835.74" cy="305.2" r="4.45"/>
<circle cx="842.16" cy="305.2" r="4.45"/>
<circle cx="790.80" cy="311.8" r="4.45"/>
<circle cx="797.22" cy="311.8" r="4.45"/>
<circle cx="803.64" cy="311.8" r="4.45"/>
<circle cx="810.06" cy="311.8" r="4.45"/>
<circle cx="816.48" cy="311.8" r="4.45"/>
<circle cx="822.90" cy="311.8" r="4.45"/>
<circle cx="829.32" cy="311.8" r="4.45"/>
<circle cx="835.74" cy="311.8" r="4.45"/>
<circle cx="842.16" cy="311.8" r="4.45"/>
<circle cx="790.80" cy="318.4" r="4.45"/>
<circle cx="797.22" cy="318.4" r="4.45"/>
<circle cx="803.64" cy="318.4" r="4.45"/>
<circle cx="810.06" cy="318.4" r="4.45"/>
<circle cx="816.48" cy="318.4" r="4.45"/>
<circle cx="822.90" cy="318.4" r="4.45"/>
<circle cx="829.32" cy="318.4" r="4.45"/>
<circle cx="835.74" cy="318.4" r="4.45"/>
<circle cx="842.16" cy="318.4" r="4.45"/>
<circle cx="790.80" cy="324.6" r="4.45"/>
<circle cx="797.22" cy="324.6" r="4.45"/>
<circle cx="803.64" cy="324.6" r="4.45"/>
<circle cx="810.06" cy="324.6" r="4.45"/>
<circle cx="816.48" cy="324.6" r="4.45"/>
<circle cx="822.90" cy="324.6" r="4.45"/>
<circle cx="829.32" cy="324.6" r="4.45"/>
<circle cx="835.74" cy="324.6" r="4.45"/>
<circle cx="790.80" cy="331" r="4.45"/>
<circle cx="797.22" cy="331" r="4.45"/>
<circle cx="803.64" cy="331" r="4.45"/>
<circle cx="810.06" cy="331" r="4.45"/>
<circle cx="816.48" cy="331" r="4.45"/>
<circle cx="822.90" cy="331" r="4.45"/>
<circle cx="829.32" cy="331" r="4.45"/>
<circle cx="835.74" cy="331" r="4.45"/>
<circle cx="842.16" cy="331" r="4.45"/>
<circle cx="790.80" cy="337.5" r="4.45"/>
<circle cx="797.22" cy="337.5" r="4.45"/>
<circle cx="803.64" cy="337.5" r="4.45"/>
<circle cx="810.06" cy="337.5" r="4.45"/>
<circle cx="816.48" cy="337.5" r="4.45"/>
<circle cx="822.90" cy="337.5" r="4.45"/>
<circle cx="829.32" cy="337.5" r="4.45"/>
<circle cx="835.74" cy="337.5" r="4.45"/>
<circle cx="790.80" cy="344" r="4.45"/>
<circle cx="797.22" cy="344" r="4.45"/>
<circle cx="803.64" cy="344" r="4.45"/>
<circle cx="810.06" cy="344" r="4.45"/>
<circle cx="816.48" cy="344" r="4.45"/>
<circle cx="822.90" cy="344" r="4.45"/>
<circle cx="829.32" cy="344" r="4.45"/>
<circle cx="790.80" cy="351" r="4.45"/>
<circle cx="797.22" cy="351" r="4.45"/>
<circle cx="803.64" cy="351" r="4.45"/>
<circle cx="810.06" cy="351" r="4.45"/>
<circle cx="816.48" cy="351" r="4.45"/>
<circle cx="822.90" cy="351" r="4.45"/>
<circle cx="829.32" cy="351" r="4.45"/>
<circle cx="835.74" cy="351" r="4.45"/>
<circle cx="842.16" cy="351" r="4.45"/>
<circle cx="848.58" cy="351" r="4.45"/>
<circle cx="855.00" cy="351" r="4.45"/>
<circle cx="861.42" cy="351" r="4.45"/>
<circle cx="867.84" cy="351" r="4.45"/>
<circle cx="874.26" cy="351" r="4.45"/>
<circle cx="880.68" cy="351" r="4.45"/>
<circle cx="887.10" cy="351" r="4.45"/>
<circle cx="893.52" cy="351" r="4.45"/>
<circle cx="790.80" cy="357.5" r="4.45"/>
<circle cx="797.22" cy="357.5" r="4.45"/>
<circle cx="803.64" cy="357.5" r="4.45"/>
<circle cx="810.06" cy="357.5" r="4.45"/>
<circle cx="816.48" cy="357.5" r="4.45"/>
<circle cx="822.90" cy="357.5" r="4.45"/>
<circle cx="829.32" cy="357.5" r="4.45"/>
<circle cx="790.80" cy="364" r="4.45"/>
<circle cx="797.22" cy="364" r="4.45"/>
<circle cx="803.64" cy="364" r="4.45"/>
<circle cx="810.06" cy="364" r="4.45"/>
<circle cx="816.48" cy="364" r="4.45"/>
<circle cx="822.90" cy="364" r="4.45"/>
<circle cx="790.80" cy="370.4" r="4.45"/>
<circle cx="797.22" cy="370.4" r="4.45"/>
<circle cx="803.64" cy="370.4" r="4.45"/>
<circle cx="810.06" cy="370.4" r="4.45"/>
<circle cx="816.48" cy="370.4" r="4.45"/>
<circle cx="822.90" cy="370.4" r="4.45"/>
<circle cx="829.32" cy="370.4" r="4.45"/>
<circle cx="835.74" cy="370.4" r="4.45"/>
<circle cx="842.16" cy="370.4" r="4.45"/>
<circle cx="848.58" cy="370.4" r="4.45"/>
<circle cx="855.00" cy="370.4" r="4.45"/>
<circle cx="861.42" cy="370.4" r="4.45"/>
<circle cx="790.80" cy="377" r="4.45"/>
<circle cx="797.22" cy="377" r="4.45"/>
<circle cx="803.64" cy="377" r="4.45"/>
<circle cx="810.06" cy="377" r="4.45"/>
<circle cx="816.48" cy="377" r="4.45"/>
<circle cx="822.90" cy="377" r="4.45"/>
<circle cx="829.32" cy="377" r="4.45"/>
<circle cx="835.74" cy="377" r="4.45"/>
<circle cx="790.80" cy="383.6" r="4.45"/>
<circle cx="797.22" cy="383.6" r="4.45"/>
<circle cx="803.64" cy="383.6" r="4.45"/>
<circle cx="810.06" cy="383.6" r="4.45"/>
<circle cx="816.48" cy="383.6" r="4.45"/>
<circle cx="822.90" cy="383.6" r="4.45"/>
<circle cx="790.80" cy="389.8" r="4.45"/>
<circle cx="797.22" cy="389.8" r="4.45"/>
<circle cx="803.64" cy="389.8" r="4.45"/>
<circle cx="810.06" cy="389.8" r="4.45"/>
<circle cx="816.48" cy="389.8" r="4.45"/>
<circle cx="822.90" cy="389.8" r="4.45"/>
<circle cx="829.32" cy="389.8" r="4.45"/>
<circle cx="790.80" cy="396.6" r="4.45"/>
<circle cx="797.22" cy="396.6" r="4.45"/>
<circle cx="803.64" cy="396.6" r="4.45"/>
<circle cx="810.06" cy="396.6" r="4.45"/>
<circle cx="816.48" cy="396.6" r="4.45"/>
<circle cx="822.90" cy="396.6" r="4.45"/>
<circle cx="829.32" cy="396.6" r="4.45"/>
<circle cx="835.74" cy="396.6" r="4.45"/>
<circle cx="842.16" cy="396.6" r="4.45"/>
<circle cx="848.58" cy="396.6" r="4.45"/>
<circle cx="790.80" cy="403.4" r="4.45"/>
<circle cx="797.22" cy="403.4" r="4.45"/>
<circle cx="803.64" cy="403.4" r="4.45"/>
<circle cx="810.06" cy="403.4" r="4.45"/>
<circle cx="816.48" cy="403.4" r="4.45"/>
<circle cx="822.90" cy="403.4" r="4.45"/>
<circle cx="829.32" cy="403.4" r="4.45"/>
<circle cx="835.74" cy="403.4" r="4.45"/>
<circle cx="790.80" cy="410" r="4.45"/>
<circle cx="797.22" cy="410" r="4.45"/>
<circle cx="803.64" cy="410" r="4.45"/>
<circle cx="810.06" cy="410" r="4.45"/>
<circle cx="816.48" cy="410" r="4.45"/>
<circle cx="790.80" cy="416.4" r="4.45"/>
<circle cx="797.22" cy="416.4" r="4.45"/>
<circle cx="803.64" cy="416.4" r="4.45"/>
<circle cx="810.06" cy="416.4" r="4.45"/>
<circle cx="816.48" cy="416.4" r="4.45"/>
<circle cx="822.90" cy="416.4" r="4.45"/>
<circle cx="829.32" cy="416.4" r="4.45"/>
<circle cx="835.74" cy="416.4" r="4.45"/>
<circle cx="842.16" cy="416.4" r="4.45"/>
<circle cx="790.80" cy="423" r="4.45"/>
<circle cx="797.22" cy="423" r="4.45"/>
<circle cx="803.64" cy="423" r="4.45"/>
<circle cx="790.80" cy="429.4" r="4.45"/>
<circle cx="797.22" cy="429.4" r="4.45"/>
<circle cx="803.64" cy="429.4" r="4.45"/>
<circle cx="810.06" cy="429.4" r="4.45"/>
<circle cx="816.48" cy="429.4" r="4.45"/>
<circle cx="790.80" cy="436" r="4.45"/>
<circle cx="797.22" cy="436" r="4.45"/>
<circle cx="790.80" cy="442.6" r="4.45"/>
<circle cx="790.80" cy="450.6" r="4.45"/>
<circle cx="797.22" cy="450.6" r="4.45"/>
<circle cx="803.64" cy="450.6" r="4.45"/>
<circle cx="790.80" cy="458" r="4.45"/>
<circle cx="797.22" cy="458" r="4.45"/>
<circle cx="790.80" cy="464.6" r="4.45"/>
<circle cx="790.80" cy="472.2" r="4.45"/>
<circle cx="797.22" cy="472.2" r="4.45"/>
<circle cx="790.80" cy="478.2" r="4.45"/>
<circle cx="790.80" cy="485.6" r="4.45"/>
<circle cx="797.22" cy="485.6" r="4.45"/>
<circle cx="790.80" cy="492" r="4.45"/>
<circle cx="790.80" cy="509.4" r="4.45"/>
<circle cx="790.80" cy="523.6" r="4.45"/>
<circle cx="797.22" cy="523.6" r="4.45"/>
</g>
<line x1="364.7" y1="160" x2="364.7" y2="327.6" stroke="#000" stroke-width="2.8"/>
<line x1="364.7" y1="431.5" x2="364.7" y2="651.4" stroke="#000" stroke-width="2.8"/>
<rect x="286.45" y="327.6" width="156.25" height="103.89999999999998" fill="none" stroke="#000" stroke-width="2.8"/>
<line x1="286.5" y1="160" x2="443" y2="160" stroke="#000" stroke-width="2.8"/>
<line x1="306" y1="168.5" x2="424" y2="168.5" stroke="#000" stroke-width="2.8"/>
<line x1="325.5" y1="238.5" x2="404" y2="238.5" stroke="#000" stroke-width="2.8"/>
<line x1="345.5" y1="286.5" x2="384" y2="286.5" stroke="#000" stroke-width="2.8"/>
<line x1="345.5" y1="472.5" x2="384" y2="472.5" stroke="#000" stroke-width="2.8"/>
<line x1="325.5" y1="519" x2="404" y2="519" stroke="#000" stroke-width="2.8"/>
<line x1="306" y1="612.2" x2="423.6" y2="612.2" stroke="#000" stroke-width="2.8"/>
<line x1="286" y1="651.4" x2="443" y2="651.4" stroke="#000" stroke-width="2.8"/>
<line x1="787.6" y1="92.4" x2="787.6" y2="294.9" stroke="#000" stroke-width="2.8"/>
<line x1="787.6" y1="390.35" x2="787.6" y2="525.4" stroke="#000" stroke-width="2.8"/>
<rect x="709.55" y="294.9" width="156.20000000000005" height="95.45000000000005" fill="none" stroke="#000" stroke-width="2.8"/>
<line x1="709.8" y1="92.4" x2="866" y2="92.4" stroke="#000" stroke-width="2.8"/>
<line x1="729.6" y1="103.4" x2="846.5" y2="103.4" stroke="#000" stroke-width="2.8"/>
<line x1="748.5" y1="201.3" x2="826.5" y2="201.3" stroke="#000" stroke-width="2.8"/>
<line x1="768.4" y1="248.9" x2="806.7" y2="248.9" stroke="#000" stroke-width="2.8"/>
<line x1="768.5" y1="425" x2="806" y2="425" stroke="#000" stroke-width="2.8"/>
<line x1="748.6" y1="482" x2="827" y2="482" stroke="#000" stroke-width="2.8"/>
<line x1="729" y1="523" x2="847" y2="523" stroke="#000" stroke-width="2.8"/>
<line x1="709" y1="525.4" x2="866.4" y2="525.4" stroke="#000" stroke-width="2.8"/>
<line x1="709.55" y1="344.7" x2="865.75" y2="344.7" stroke="#000" stroke-width="2.8"/>
<line x1="127.04" y1="375.3" x2="994.5" y2="375.3" stroke="#1a1a1a" stroke-width="3.1" stroke-dasharray="8.5 8.76"/>
<rect x="277.2" y="374.4" width="175.8" height="13.300000000000011" fill="#5b86d0" fill-opacity="0.5"/>
<line x1="279" y1="381.3" x2="448.5" y2="381.3" stroke="#0048b0" stroke-width="5.6"/>
<rect x="699" y="331.5" width="176.04999999999995" height="18.100000000000023" fill="#5b86d0" fill-opacity="0.5"/>
<line x1="702.2" y1="340.75" x2="871.8" y2="340.75" stroke="#0048b0" stroke-width="5.8"/>
<rect x="127.4" y="1.4" width="872.4" height="710.9" fill="none" stroke="#a3a3a3" stroke-width="3.1"/>
<line x1="113.8" y1="88.30000000000001" x2="126" y2="88.30000000000001" stroke="#a3a3a3" stroke-width="3"/>
<line x1="113.8" y1="183.99999999999997" x2="126" y2="183.99999999999997" stroke="#a3a3a3" stroke-width="3"/>
<line x1="113.8" y1="279.7" x2="126" y2="279.7" stroke="#a3a3a3" stroke-width="3"/>
<line x1="113.8" y1="375.4" x2="126" y2="375.4" stroke="#a3a3a3" stroke-width="3"/>
<line x1="113.8" y1="471.09999999999997" x2="126" y2="471.09999999999997" stroke="#a3a3a3" stroke-width="3"/>
<line x1="113.8" y1="566.8" x2="126" y2="566.8" stroke="#a3a3a3" stroke-width="3"/>
<line x1="113.8" y1="662.5" x2="126" y2="662.5" stroke="#a3a3a3" stroke-width="3"/>
<rect x="759.2" y="64" width="58.8" height="40.6" fill="#fff" fill-opacity="0.55"/>
<path d="M294.0,1330.0 L339.4,1307.9 L398.9,1273.8 L433.3,1251.4 L448.9,1240.6 L464.5,1229.4 L480.1,1217.8 L495.7,1205.8 L511.3,1193.5 L526.9,1180.7 L542.5,1167.6 L558.1,1154.0 L573.7,1139.9 L589.3,1125.3 L604.9,1110.0 L620.5,1094.0 L636.1,1077.2 L651.7,1059.7 L667.3,1041.5 L682.9,1022.9 L698.5,1004.3 L714.2,985.8 L729.8,967.8 L745.4,950.4 L761.0,933.8 L776.6,918.1 L792.2,903.2 L807.8,889.4 L823.4,876.5 L839.0,864.6 L854.6,853.7 L870.2,843.7 L885.8,834.5 L901.4,826.3 L917.0,818.8 L955.7,803.3 L955.7,878.9 L917.0,899.2 L901.4,908.1 L885.8,917.4 L870.2,927.2 L854.6,937.3 L839.0,947.9 L823.4,958.9 L807.8,970.2 L792.2,982.0 L776.6,994.2 L761.0,1006.9 L745.4,1019.9 L729.8,1033.3 L714.2,1047.3 L698.5,1061.6 L682.9,1076.6 L667.3,1092.1 L651.7,1108.2 L636.1,1124.9 L620.5,1142.3 L604.9,1160.1 L589.3,1178.2 L573.7,1196.3 L558.1,1214.3 L542.5,1231.8 L526.9,1248.8 L511.3,1265.1 L495.7,1280.5 L480.1,1295.1 L464.5,1308.7 L448.9,1321.4 L433.3,1333.1 L398.9,1355.6 L339.4,1385.1 L294.0,1400.9Z" fill="#c1d2eb"/>
<path d="M294.0,1373.5 L339.4,1353.6 L398.9,1320.0 L433.3,1296.3 L448.9,1284.4 L464.5,1271.9 L480.1,1258.7 L495.7,1244.8 L511.3,1230.3 L526.9,1215.3 L542.5,1199.7 L558.1,1183.6 L573.7,1167.1 L589.3,1150.3 L604.9,1133.2 L620.5,1115.9 L636.1,1098.5 L651.7,1081.2 L667.3,1063.9 L682.9,1046.8 L698.5,1029.9 L714.2,1013.4 L729.8,997.4 L745.4,981.7 L761.0,966.7 L776.6,952.2 L792.2,938.3 L807.8,925.0 L823.4,912.5 L839.0,900.6 L854.6,889.4 L870.2,878.8 L885.8,869.0 L901.4,859.8 L917.0,851.2 L955.7,832.5" fill="none" stroke="#0048b0" stroke-width="6.2"/>
<rect x="277.5" y="788.6" width="695.4" height="651.15" fill="none" stroke="#a3a3a3" stroke-width="3"/>
<line x1="262.5" y1="1439.75" x2="277.5" y2="1439.75" stroke="#a3a3a3" stroke-width="3"/>
<line x1="262.5" y1="1371" x2="277.5" y2="1371" stroke="#a3a3a3" stroke-width="3"/>
<line x1="262.5" y1="1302.1" x2="277.5" y2="1302.1" stroke="#a3a3a3" stroke-width="3"/>
<line x1="262.5" y1="1235.4" x2="277.5" y2="1235.4" stroke="#a3a3a3" stroke-width="3"/>
<line x1="262.5" y1="1166.5" x2="277.5" y2="1166.5" stroke="#a3a3a3" stroke-width="3"/>
<line x1="262.5" y1="1097.9" x2="277.5" y2="1097.9" stroke="#a3a3a3" stroke-width="3"/>
<line x1="262.5" y1="1028.8" x2="277.5" y2="1028.8" stroke="#a3a3a3" stroke-width="3"/>
<line x1="262.5" y1="960.7" x2="277.5" y2="960.7" stroke="#a3a3a3" stroke-width="3"/>
<line x1="262.5" y1="894.4" x2="277.5" y2="894.4" stroke="#a3a3a3" stroke-width="3"/>
<line x1="262.5" y1="825.2" x2="277.5" y2="825.2" stroke="#a3a3a3" stroke-width="3"/>
<line x1="280.21999999999997" y1="1439.75" x2="280.21999999999997" y2="1454.7" stroke="#a3a3a3" stroke-width="3.1"/>
<line x1="393.5799999999999" y1="1439.75" x2="393.5799999999999" y2="1454.7" stroke="#a3a3a3" stroke-width="3.1"/>
<line x1="506.93999999999994" y1="1439.75" x2="506.93999999999994" y2="1454.7" stroke="#a3a3a3" stroke-width="3.1"/>
<line x1="620.3" y1="1439.75" x2="620.3" y2="1454.7" stroke="#a3a3a3" stroke-width="3.1"/>
<line x1="733.66" y1="1439.75" x2="733.66" y2="1454.7" stroke="#a3a3a3" stroke-width="3.1"/>
<line x1="847.02" y1="1439.75" x2="847.02" y2="1454.7" stroke="#a3a3a3" stroke-width="3.1"/>
<line x1="960.3799999999999" y1="1439.75" x2="960.3799999999999" y2="1454.7" stroke="#a3a3a3" stroke-width="3.1"/>
<text transform="translate(62.72,98.2) scale(0.9735,1)" font-size="30.7" font-weight="normal" fill="#000" stroke="#000" stroke-width="0.7" stroke-linejoin="round">0.6</text>
<text transform="translate(62.73,192.8) scale(0.9621,1)" font-size="30.7" font-weight="normal" fill="#000" stroke="#000" stroke-width="0.7" stroke-linejoin="round">0.4</text>
<text transform="translate(62.71,288.8) scale(0.9784,1)" font-size="30.7" font-weight="normal" fill="#000" stroke="#000" stroke-width="0.7" stroke-linejoin="round">0.2</text>
<text transform="translate(86.54,384.4) scale(0.9446,1)" font-size="30.7" font-weight="normal" fill="#000" stroke="#000" stroke-width="0.7" stroke-linejoin="round">0</text>
<text transform="translate(54.92,480.3) scale(0.9724,1)" font-size="30.7" font-weight="normal" fill="#000" stroke="#000" stroke-width="0.7" stroke-linejoin="round">-0.2</text>
<text transform="translate(54.93,575.9) scale(0.9633,1)" font-size="30.7" font-weight="normal" fill="#000" stroke="#000" stroke-width="0.7" stroke-linejoin="round">-0.4</text>
<text transform="translate(54.92,671.8) scale(0.9744,1)" font-size="30.7" font-weight="normal" fill="#000" stroke="#000" stroke-width="0.7" stroke-linejoin="round">-0.6</text>
<text transform="translate(-2.79,386.3) scale(1.0452,1)" font-size="31.5" font-weight="normal" fill="#000" stroke="#000" stroke-width="0.7" stroke-linejoin="round">QR</text>
<text transform="translate(139.02,46) scale(0.8629,1)" font-size="32" font-weight="bold" fill="#000" stroke="#000" stroke-width="0.5" stroke-linejoin="round">a</text>
<text transform="translate(581.12,42.6) scale(0.9636,1)" font-size="32" font-weight="bold" fill="#000" stroke="#000" stroke-width="0.5" stroke-linejoin="round">b</text>
<text transform="translate(80.95,822.7) scale(1.0000,1)" font-size="32" font-weight="bold" fill="#404040" stroke="#404040" stroke-width="0.5" stroke-linejoin="round">c</text>
<text transform="translate(325.70,47) scale(0.9292,1)" font-size="29.4" font-weight="normal" fill="#000" stroke="#000" stroke-width="0.7" stroke-linejoin="round">-0.012</text>
<text transform="translate(338.20,88.2) scale(0.9218,1)" font-size="29.4" font-weight="normal" fill="#000" stroke="#000" stroke-width="0.7" stroke-linejoin="round">0.16</text>
<text transform="translate(755.20,46.5) scale(0.9306,1)" font-size="29.4" font-weight="normal" fill="#000" stroke="#000" stroke-width="0.7" stroke-linejoin="round">0.073</text>
<text transform="translate(763.29,89.2) scale(0.9363,1)" font-size="29.4" font-weight="normal" fill="#000" stroke="#000" stroke-width="0.7" stroke-linejoin="round">0.15</text>
<text transform="translate(905.51,46) scale(0.9311,1)" font-size="29.4" font-weight="normal" fill="#000" stroke="#000" stroke-width="0.7" stroke-linejoin="round">Mean</text>
<text transform="translate(925.02,89.6) scale(0.9074,1)" font-size="29.4" font-weight="normal" fill="#000" stroke="#000" stroke-width="0.7" stroke-linejoin="round">SD</text>
<text transform="translate(342.82,693) scale(0.9451,1)" font-size="29.4" font-weight="normal" fill="#000" stroke="#000" stroke-width="0.7" stroke-linejoin="round">448</text>
<text transform="translate(765.54,693) scale(0.9530,1)" font-size="29.4" font-weight="normal" fill="#000" stroke="#000" stroke-width="0.7" stroke-linejoin="round">259</text>
<text transform="translate(965.86,692) scale(0.9554,1)" font-size="29.4" font-weight="normal" fill="#000" stroke="#000" stroke-width="0.7" stroke-linejoin="round">N</text>
<text transform="translate(305.89,751) scale(1.0052,1)" font-size="30" font-weight="normal" fill="#000" stroke="#000" stroke-width="0.7" stroke-linejoin="round">Placebo</text>
<text transform="translate(745.35,751) scale(1.0028,1)" font-size="30" font-weight="normal" fill="#000" stroke="#000" stroke-width="0.7" stroke-linejoin="round">Active</text>
<text transform="translate(137.77,154) scale(1.0343,1)" font-size="23.3" font-weight="normal" fill="#000" stroke="#000" stroke-width="0.55" stroke-linejoin="round">100%:</text>
<text transform="translate(219.42,154) scale(1.0337,1)" font-size="23.3" font-weight="normal" fill="#000" stroke="#000" stroke-width="0.55" stroke-linejoin="round">0.45</text>
<text transform="translate(138.83,188) scale(1.0520,1)" font-size="23.3" font-weight="normal" fill="#000" stroke="#000" stroke-width="0.55" stroke-linejoin="round">99.5%:</text>
<text transform="translate(221.72,188) scale(1.0337,1)" font-size="23.3" font-weight="normal" fill="#000" stroke="#000" stroke-width="0.55" stroke-linejoin="round">0.43</text>
<text transform="translate(135.10,254) scale(1.0722,1)" font-size="23.3" font-weight="normal" fill="#000" stroke="#000" stroke-width="0.55" stroke-linejoin="round">97.5%:</text>
<text transform="translate(218.71,254) scale(1.0498,1)" font-size="23.3" font-weight="normal" fill="#000" stroke="#000" stroke-width="0.55" stroke-linejoin="round">0.29</text>
<text transform="translate(136.91,299.2) scale(1.0629,1)" font-size="23.3" font-weight="normal" fill="#000" stroke="#000" stroke-width="0.55" stroke-linejoin="round">90%:</text>
<text transform="translate(219.91,299.2) scale(1.0566,1)" font-size="23.3" font-weight="normal" fill="#000" stroke="#000" stroke-width="0.55" stroke-linejoin="round">0.19</text>
<text transform="translate(137.83,339) scale(1.0449,1)" font-size="23.3" font-weight="normal" fill="#000" stroke="#000" stroke-width="0.55" stroke-linejoin="round">75%:</text>
<text transform="translate(219.91,339) scale(1.0479,1)" font-size="23.3" font-weight="normal" fill="#000" stroke="#000" stroke-width="0.55" stroke-linejoin="round">0.10</text>
<text transform="translate(137.71,399.3) scale(1.0472,1)" font-size="23.3" font-weight="normal" fill="#000" stroke="#000" stroke-width="0.55" stroke-linejoin="round">50%:</text>
<text transform="translate(220.25,399.3) scale(0.9945,1)" font-size="23.3" font-weight="normal" fill="#000" stroke="#000" stroke-width="0.55" stroke-linejoin="round">-0.01</text>
<text transform="translate(135.50,446.3) scale(1.0769,1)" font-size="23.3" font-weight="normal" fill="#000" stroke="#000" stroke-width="0.55" stroke-linejoin="round">25%:</text>
<text transform="translate(219.31,446.3) scale(1.0489,1)" font-size="23.3" font-weight="normal" fill="#000" stroke="#000" stroke-width="0.55" stroke-linejoin="round">-0.12</text>
<text transform="translate(137.46,484.4) scale(1.0384,1)" font-size="23.3" font-weight="normal" fill="#000" stroke="#000" stroke-width="0.55" stroke-linejoin="round">10%:</text>
<text transform="translate(219.62,484.4) scale(1.0357,1)" font-size="23.3" font-weight="normal" fill="#000" stroke="#000" stroke-width="0.55" stroke-linejoin="round">-0.20</text>
<text transform="translate(134.11,529) scale(1.0703,1)" font-size="23.3" font-weight="normal" fill="#000" stroke="#000" stroke-width="0.55" stroke-linejoin="round">2.5%:</text>
<text transform="translate(217.62,529) scale(1.0415,1)" font-size="23.3" font-weight="normal" fill="#000" stroke="#000" stroke-width="0.55" stroke-linejoin="round">-0.30</text>
<text transform="translate(139.90,620.8) scale(1.0635,1)" font-size="23.3" font-weight="normal" fill="#000" stroke="#000" stroke-width="0.55" stroke-linejoin="round">0.5%:</text>
<text transform="translate(215.92,620.8) scale(1.0415,1)" font-size="23.3" font-weight="normal" fill="#000" stroke="#000" stroke-width="0.55" stroke-linejoin="round">-0.50</text>
<text transform="translate(139.91,661.8) scale(1.0545,1)" font-size="23.3" font-weight="normal" fill="#000" stroke="#000" stroke-width="0.55" stroke-linejoin="round">0%:</text>
<text transform="translate(215.91,661.8) scale(1.0489,1)" font-size="23.3" font-weight="normal" fill="#000" stroke="#000" stroke-width="0.55" stroke-linejoin="round">-0.58</text>
<text transform="translate(203.97,1450.7) scale(0.9752,1)" font-size="32" font-weight="normal" fill="#000" stroke="#000" stroke-width="0.7" stroke-linejoin="round">0%</text>
<text transform="translate(187.63,1382.2) scale(0.9592,1)" font-size="32" font-weight="normal" fill="#000" stroke="#000" stroke-width="0.7" stroke-linejoin="round">10%</text>
<text transform="translate(185.36,1313.3) scale(0.9952,1)" font-size="32" font-weight="normal" fill="#000" stroke="#000" stroke-width="0.7" stroke-linejoin="round">20%</text>
<text transform="translate(185.86,1246.6000000000001) scale(0.9872,1)" font-size="32" font-weight="normal" fill="#000" stroke="#000" stroke-width="0.7" stroke-linejoin="round">30%</text>
<text transform="translate(186.36,1177.7) scale(0.9793,1)" font-size="32" font-weight="normal" fill="#000" stroke="#000" stroke-width="0.7" stroke-linejoin="round">40%</text>
<text transform="translate(185.86,1109.1000000000001) scale(0.9872,1)" font-size="32" font-weight="normal" fill="#000" stroke="#000" stroke-width="0.7" stroke-linejoin="round">50%</text>
<text transform="translate(185.36,1040.0) scale(0.9952,1)" font-size="32" font-weight="normal" fill="#000" stroke="#000" stroke-width="0.7" stroke-linejoin="round">60%</text>
<text transform="translate(185.36,971.9000000000001) scale(0.9952,1)" font-size="32" font-weight="normal" fill="#000" stroke="#000" stroke-width="0.7" stroke-linejoin="round">70%</text>
<text transform="translate(185.86,905.6) scale(0.9872,1)" font-size="32" font-weight="normal" fill="#000" stroke="#000" stroke-width="0.7" stroke-linejoin="round">80%</text>
<text transform="translate(185.36,836.4000000000001) scale(0.9952,1)" font-size="32" font-weight="normal" fill="#000" stroke="#000" stroke-width="0.7" stroke-linejoin="round">90%</text>
<text transform="translate(248.96,1489.6) scale(0.9859,1)" font-size="32" font-weight="normal" fill="#000" stroke="#000" stroke-width="0.7" stroke-linejoin="round">-0.6</text>
<text transform="translate(361.77,1489.6) scale(0.9804,1)" font-size="32" font-weight="normal" fill="#000" stroke="#000" stroke-width="0.7" stroke-linejoin="round">-0.4</text>
<text transform="translate(474.65,1489.6) scale(0.9973,1)" font-size="32" font-weight="normal" fill="#000" stroke="#000" stroke-width="0.7" stroke-linejoin="round">-0.2</text>
<text transform="translate(612.91,1489.6) scale(0.9437,1)" font-size="32" font-weight="normal" fill="#000" stroke="#000" stroke-width="0.7" stroke-linejoin="round">0</text>
<text transform="translate(712.85,1489.6) scale(1.0027,1)" font-size="32" font-weight="normal" fill="#000" stroke="#000" stroke-width="0.7" stroke-linejoin="round">0.2</text>
<text transform="translate(825.67,1489.6) scale(0.9839,1)" font-size="32" font-weight="normal" fill="#000" stroke="#000" stroke-width="0.7" stroke-linejoin="round">0.4</text>
<text transform="translate(939.06,1489.6) scale(0.9884,1)" font-size="32" font-weight="normal" fill="#000" stroke="#000" stroke-width="0.7" stroke-linejoin="round">0.6</text>
<text transform="translate(599.83,1547.2) scale(0.9969,1)" font-size="32.6" font-weight="normal" fill="#000" stroke="#000" stroke-width="0.7" stroke-linejoin="round">QR</text>
<text transform="translate(159.8,1354.44) rotate(-90) scale(0.9961,1)" font-size="32" font-weight="normal" fill="#000" stroke="#000" stroke-width="0.7" stroke-linejoin="round">Probability of active treatment</text>
</svg>
</body></html>
